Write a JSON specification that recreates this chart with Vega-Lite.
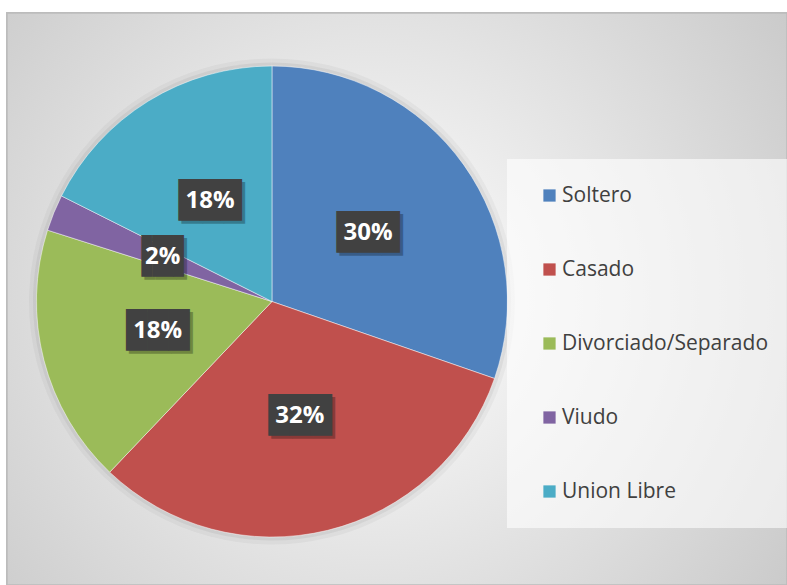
{
  "$schema": "https://vega.github.io/schema/vega-lite/v6.json",
  "autosize": "none",
  "width": 780,
  "height": 572,
  "padding": {"left": 7, "top": 13, "right": 0, "bottom": 0},
  "background": "#ffffff",
  "config": {"view": {"stroke": null}},
  "data": {
    "values": [
      {"estado": "Soltero", "valor": 30.3, "etiqueta": "30%", "orden": 1},
      {"estado": "Casado", "valor": 31.8, "etiqueta": "32%", "orden": 2},
      {"estado": "Divorciado/Separado", "valor": 17.8, "etiqueta": "18%", "orden": 3},
      {"estado": "Viudo", "valor": 2.5, "etiqueta": "2%", "orden": 4},
      {"estado": "Union Libre", "valor": 17.6, "etiqueta": "18%", "orden": 5}
    ]
  },
  "layer": [
    {
      "mark": {
        "type": "rect",
        "stroke": "#bcbcbc",
        "strokeWidth": 1.5,
        "fill": {
          "gradient": "radial",
          "x1": 0.47, "y1": 0.5, "r1": 0,
          "x2": 0.47, "y2": 0.5, "r2": 0.75,
          "stops": [
            {"offset": 0, "color": "#ffffff"},
            {"offset": 1, "color": "#c2c2c2"}
          ]
        }
      },
      "encoding": {
        "x": {"datum": 0, "type": "quantitative", "scale": {"domain": [0, 1], "nice": false, "zero": false}, "axis": null},
        "x2": {"datum": 1},
        "y": {"datum": 0, "type": "quantitative", "scale": {"domain": [0, 1], "nice": false, "zero": false}, "axis": null},
        "y2": {"datum": 1}
      }
    },
    {
      "mark": {"type": "arc", "outerRadius": 243, "fill": "#000000", "fillOpacity": 0.035, "stroke": null},
      "encoding": {
        "x": {"datum": 0.3397, "type": "quantitative"},
        "y": {"datum": 0.4956, "type": "quantitative"},
        "theta": {"field": "valor", "type": "quantitative", "stack": true},
        "order": {"field": "orden"}
      }
    },
    {
      "mark": {"type": "arc", "outerRadius": 239, "fill": "#000000", "fillOpacity": 0.05, "stroke": null},
      "encoding": {
        "x": {"datum": 0.3397, "type": "quantitative"},
        "y": {"datum": 0.4956, "type": "quantitative"},
        "theta": {"field": "valor", "type": "quantitative", "stack": true},
        "order": {"field": "orden"}
      }
    },
    {
      "mark": {"type": "arc", "outerRadius": 235.5, "stroke": "#ffffff", "strokeWidth": 0.8, "strokeOpacity": 0.6},
      "encoding": {
        "x": {"datum": 0.3397, "type": "quantitative"},
        "y": {"datum": 0.4956, "type": "quantitative"},
        "theta": {"field": "valor", "type": "quantitative", "stack": true},
        "order": {"field": "orden"},
        "color": {
          "field": "estado",
          "type": "nominal",
          "scale": {
            "domain": ["Soltero", "Casado", "Divorciado/Separado", "Viudo", "Union Libre"],
            "range": ["#4F81BD", "#C0504D", "#9BBB59", "#8064A2", "#4BACC6"]
          },
          "legend": {
            "title": null,
            "orient": "none",
            "legendX": 500,
            "legendY": 146,
            "padding": 26,
            "fillColor": "rgba(255,255,255,0.6)",
            "symbolType": "square",
            "symbolSize": 150,
            "symbolStrokeWidth": 0,
            "symbolOffset": 6,
            "labelOffset": 2,
            "labelFont": "Open Sans",
            "labelFontSize": 21,
            "labelColor": "#404040",
            "labelLimit": 400,
            "rowPadding": 52
          }
        }
      }
    },
    {
      "mark": {"type": "text", "radius": 118, "font": "DejaVu Sans Mono", "fontSize": 35, "fill": "#000000", "opacity": 0.28, "dx": 3, "dy": 3, "align": "center", "baseline": "middle"},
      "encoding": {
        "x": {"datum": 0.3397, "type": "quantitative"},
        "y": {"datum": 0.4956, "type": "quantitative"},
        "theta": {"field": "valor", "type": "quantitative", "stack": true},
        "order": {"field": "orden"},
        "text": {"condition": {"test": "length(datum.etiqueta) < 3", "value": "▐█▌"}, "value": "███"}
      }
    },
    {
      "mark": {"type": "text", "radius": 118, "font": "DejaVu Sans Mono", "fontSize": 35, "fill": "#414141", "align": "center", "baseline": "middle"},
      "encoding": {
        "x": {"datum": 0.3397, "type": "quantitative"},
        "y": {"datum": 0.4956, "type": "quantitative"},
        "theta": {"field": "valor", "type": "quantitative", "stack": true},
        "order": {"field": "orden"},
        "text": {"condition": {"test": "length(datum.etiqueta) < 3", "value": "▐█▌"}, "value": "███"}
      }
    },
    {
      "mark": {"type": "text", "radius": 118, "font": "Open Sans", "fontWeight": "bold", "fontSize": 24, "fill": "#ffffff", "align": "center", "baseline": "middle"},
      "encoding": {
        "x": {"datum": 0.3397, "type": "quantitative"},
        "y": {"datum": 0.4956, "type": "quantitative"},
        "theta": {"field": "valor", "type": "quantitative", "stack": true},
        "order": {"field": "orden"},
        "text": {"field": "etiqueta"}
      }
    }
  ]
}
